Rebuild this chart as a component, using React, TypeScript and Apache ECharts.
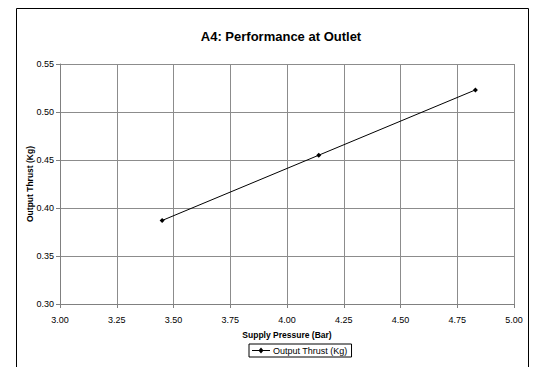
import React, { useEffect, useRef } from "react";
import * as echarts from "echarts";

const pressureBar = [3.45, 4.14, 4.83];
const thrustKg = [0.387, 0.455, 0.523];
const seriesName = "Output Thrust (Kg)";
const chartTitle = "A4: Performance at Outlet";
const xTitle = "Supply Pressure (Bar)";
const yTitle = "Output Thrust (Kg)";

const FONT = "'Liberation Sans', Arial, sans-serif";

export default function App() {
  const ref = useRef<HTMLDivElement>(null);
  useEffect(() => {
    document.body.style.margin = "0";
    if (!ref.current) return;
    const chart = echarts.init(ref.current, undefined, { renderer: "svg" });
    chart.setOption({
      animation: false,
      backgroundColor: "#ffffff",
      textStyle: { fontFamily: FONT },
      title: {
        text: chartTitle,
        left: 276,
        textAlign: "center",
        top: 25,
        textStyle: { fontFamily: FONT, fontSize: 13, fontWeight: "bold", color: "#000" },
      },
      graphic: [
        {
          type: "rect",
          shape: { x: 16.5, y: 8.5, width: 512, height: 380 },
          style: { fill: "none", stroke: "#000", lineWidth: 1 },
          silent: true,
        },
      ],
      grid: { left: 60, right: 22, top: 64, bottom: 63 },
      legend: {
        show: true,
        top: 344,
        left: 249,
        itemWidth: 18,
        itemHeight: 6,
        itemGap: 4,
        padding: [2, 4, 2, 3],
        borderColor: "#000",
        borderWidth: 1,
        textStyle: { fontFamily: FONT, fontSize: 9, color: "#000", padding: [0, 0, 0, -2] },
        data: [
          {
            name: seriesName,
            icon: "path://M0,2.5 L18,2.5 L18,3.5 L0,3.5 Z M9,0 L11.5,3 L9,6 L6.5,3 Z",
          },
        ],
      },
      xAxis: {
        type: "value",
        min: 3,
        max: 5,
        interval: 0.25,
        name: xTitle,
        nameLocation: "middle",
        nameGap: 26,
        nameMoveOverlap: false,
        nameTextStyle: { fontFamily: FONT, fontSize: 8.5, fontWeight: "bold", color: "#000" },
        axisLine: { show: true, lineStyle: { color: "#808080", width: 1 } },
        axisTick: { show: true, length: 4, lineStyle: { color: "#808080" } },
        axisLabel: {
          fontFamily: FONT,
          fontSize: 9,
          color: "#000",
          margin: 11,
          formatter: (v: number) => v.toFixed(2),
        },
        splitLine: { show: true, lineStyle: { color: "#8c8c8c", width: 1 } },
      },
      yAxis: {
        type: "value",
        min: 0.3,
        max: 0.55,
        interval: 0.05,
        name: yTitle,
        nameLocation: "middle",
        nameGap: 26,
        nameRotate: 90,
        nameMoveOverlap: false,
        nameTextStyle: { fontFamily: FONT, fontSize: 8.5, fontWeight: "bold", color: "#000" },
        axisLine: { show: true, lineStyle: { color: "#808080", width: 1 } },
        axisTick: { show: true, length: 4, lineStyle: { color: "#808080" } },
        axisLabel: {
          fontFamily: FONT,
          fontSize: 9,
          color: "#000",
          margin: 6,
          formatter: (v: number) => v.toFixed(2),
        },
        splitLine: { show: true, lineStyle: { color: "#8c8c8c", width: 1 } },
      },
      series: [
        {
          name: seriesName,
          type: "line",
          data: pressureBar.map((x, i) => [x, thrustKg[i]]),
          symbol: "diamond",
          symbolSize: 5,
          showSymbol: true,
          lineStyle: { color: "#000", width: 1 },
          itemStyle: { color: "#000" },
        },
      ],
    });
    return () => chart.dispose();
  }, []);
  return <div ref={ref} style={{ width: 536, height: 367 }} />;
}
